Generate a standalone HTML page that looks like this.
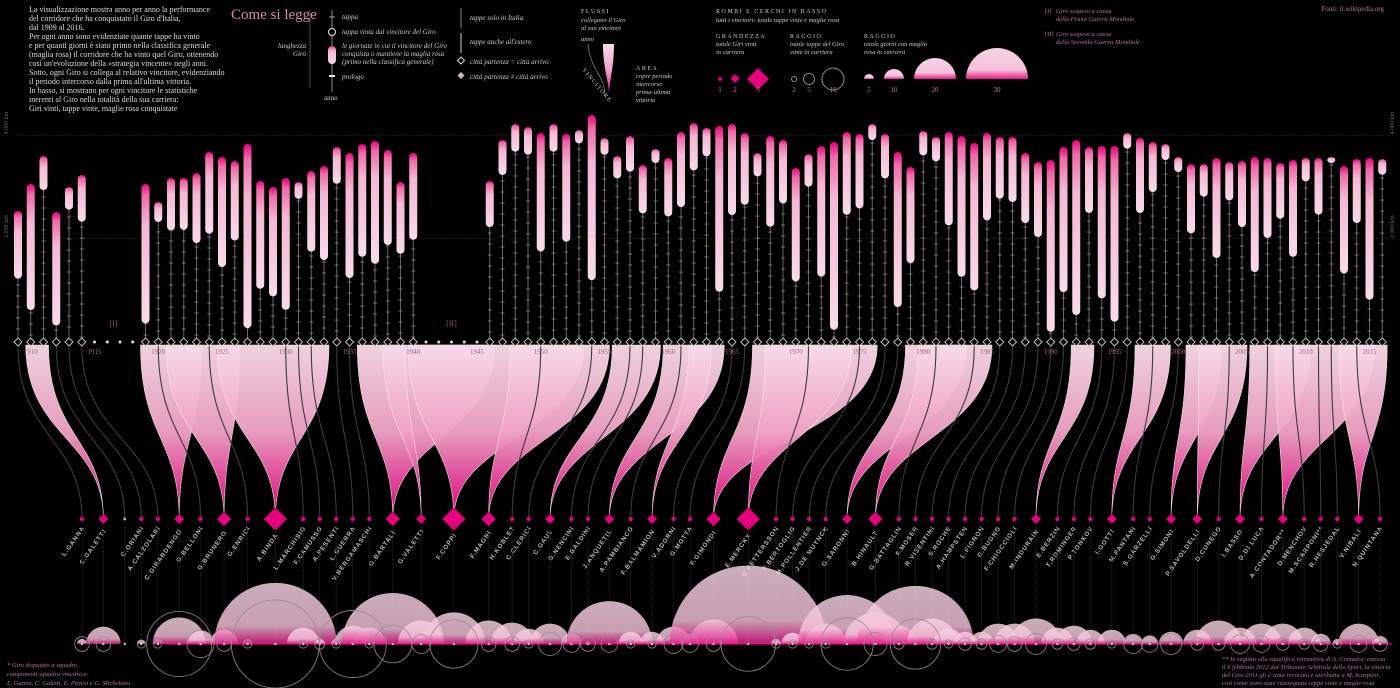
<!DOCTYPE html>
<html><head><meta charset="utf-8">
<style>
html,body{margin:0;padding:0;background:#000;}
svg{display:block;font-family:"Liberation Serif",serif;}
.it{font-style:italic;}
</style></head>
<body>
<svg id="chart" width="1400" height="688" viewBox="0 0 1400 688" xmlns="http://www.w3.org/2000/svg">
<defs>
<linearGradient id="barG" x1="0" y1="0" x2="0" y2="1"><stop offset="0" stop-color="#e8007f"/><stop offset="0.08" stop-color="#ee6aa8"/><stop offset="0.3" stop-color="#f5b8d4"/><stop offset="1" stop-color="#f8dbe8"/></linearGradient>
<linearGradient id="flowG" x1="0" y1="0" x2="0" y2="1"><stop offset="0" stop-color="#f8dbe8"/><stop offset="0.5" stop-color="#f0a3c6"/><stop offset="1" stop-color="#e6007e"/></linearGradient>
<linearGradient id="semiG" x1="0" y1="0" x2="0" y2="1"><stop offset="0" stop-color="#f7d3e4"/><stop offset="0.7" stop-color="#f3c2d9"/><stop offset="1" stop-color="#e8198a"/></linearGradient>
</defs>
<g id="intro" fill="#ddd" font-size="8">
<text x="29" y="12">La visualizzazione mostra anno per anno la performance</text>
<text x="29" y="21">del corridore che ha conquistato il Giro d'Italia,</text>
<text x="29" y="30">dal 1909 al 2016.</text>
<text x="29" y="39">Per ogni anno sono evidenziate quante tappe ha vinto</text>
<text x="29" y="48">e per quanti giorni è stato primo nella classifica generale</text>
<text x="29" y="57">(maglia rosa) il corridore che ha vinto quel Giro, ottenendo</text>
<text x="29" y="66">così un'evoluzione della «strategia vincente» negli anni.</text>
<text x="29" y="75">Sotto, ogni Giro si collega al relativo vincitore, evidenziando</text>
<text x="29" y="84">il periodo intercorso dalla prima all'ultima vittoria.</text>
<text x="29" y="93">In basso, si mostrano per ogni vincitore le statistiche</text>
<text x="29" y="102">inerenti al Giro nella totalità della sua carriera:</text>
<text x="29" y="111">Giri vinti, tappe vinte, maglie rosa conquistate</text>
</g>
<g>
<text x="231" y="19" fill="#d88db0" font-size="15">Come si legge</text>
<line x1="310" y1="10" x2="310" y2="88" stroke="#666" stroke-width="0.7"/>
<line x1="332" y1="10" x2="332" y2="92" stroke="#888" stroke-width="1"/>
<line x1="329" y1="17" x2="335" y2="17" stroke="#aaa"/>
<circle cx="332" cy="32" r="3.5" fill="#000" stroke="#eee"/>
<rect x="328" y="46" width="8" height="18" rx="4" fill="url(#barG)"/>
<rect x="329" y="75" width="6" height="2" fill="#eee"/>
<g class="it" fill="#ccc" font-size="7">
<text x="342" y="19">tappa</text>
<text x="342" y="34">tappa vinta dal vincitore del Giro</text>
<text x="342" y="48">le giornate in cui il vincitore del Giro</text>
<text x="342" y="56">conquista o mantiene la maglia rosa</text>
<text x="342" y="64">(primo nella classifica generale)</text>
<text x="342" y="79">prologo</text>
<text x="306" y="48" text-anchor="end">lunghezza</text>
<text x="306" y="56" text-anchor="end">Giro</text>
<text x="324" y="100" font-style="normal">anno</text>
<text x="470" y="20">tappe solo in Italia</text>
<text x="470" y="44">tappe anche all'estero</text>
<text x="470" y="64">città partenza = città arrivo</text>
<text x="470" y="79">città partenza ≠ città arrivo</text>
</g>
<line x1="461" y1="8" x2="461" y2="28" stroke="#888"/>
<line x1="461" y1="33" x2="461" y2="53" stroke="#ccc"/>
<path d="M461,57 l3.5,3.5 l-3.5,3.5 l-3.5,-3.5z" fill="none" stroke="#ddd"/>
<path d="M461,72 l3.5,3.5 l-3.5,3.5 l-3.5,-3.5z" fill="#d7b0c4"/>
<g fill="#ccc" font-size="6" letter-spacing="1.5"><text x="581" y="13">FLUSSI</text><text x="636" y="70">AREA</text>
<text x="716" y="13">ROMBI E CERCHI IN BASSO</text><text x="716" y="38">GRANDEZZA</text><text x="790" y="38">RAGGIO</text><text x="864" y="38">RAGGIO</text></g>
<g class="it" fill="#ccc" font-size="6.5">
<text x="581" y="22">collegano il Giro</text><text x="581" y="30">al suo vincitore</text><text x="581" y="41">anno</text>
<text x="636" y="78">copre periodo</text><text x="636" y="86">intercorso</text><text x="636" y="94">prima-ultima</text><text x="636" y="102">vittoria</text>
<text x="716" y="22">tutti i vincitori: totale tappe vinte e maglie rosa</text>
<text x="716" y="46">totale Giri vinti</text><text x="716" y="54">in carriera</text>
<text x="790" y="46">totale tappe del Giro</text><text x="790" y="54">vinte in carriera</text>
<text x="864" y="46">totale giorni con maglia</text><text x="864" y="54">rosa in carriera</text>
</g>
<path d="M603,44 L614,44 C614,70 609,80 609,96 C609,80 603,70 603,44Z" fill="url(#flowG)"/>
<path d="M588,44 C590,70 605,75 605,96" fill="none" stroke="#888" stroke-width="0.7"/>
<text x="582" y="70" font-size="6" fill="#ccc" letter-spacing="1.2" transform="rotate(50 582 70)">VINCITORE</text>
<circle cx="720" cy="79" r="2" fill="#e6007e"/>
<path d="M735,74 l4.5,4.5 l-4.5,4.5 l-4.5,-4.5z" fill="#e6007e"/>
<path d="M758,68 l11,11 l-11,11 l-11,-11z" fill="#e6007e"/>
<circle cx="794" cy="79" r="2.5" fill="none" stroke="#aaa" stroke-width="0.8"/>
<circle cx="809" cy="79" r="5.5" fill="none" stroke="#aaa" stroke-width="0.8"/>
<circle cx="833" cy="79" r="11" fill="none" stroke="#aaa" stroke-width="0.8"/>
<path d="M864,79 a5,5 0 0 1 10,0z" fill="url(#semiG)"/>
<path d="M884,79 a10,10 0 0 1 20,0z" fill="url(#semiG)"/>
<path d="M914,79 a21,21 0 0 1 42,0z" fill="url(#semiG)"/>
<path d="M966,79 a31,31 0 0 1 62,0z" fill="url(#semiG)"/>
<g fill="#c77aa0" font-size="7" text-anchor="middle"><text x="720" y="92">1</text><text x="735" y="92">2</text><text x="758" y="92">5</text><text x="794" y="92">2</text><text x="809" y="92">5</text><text x="833" y="92">10</text><text x="869" y="92">5</text><text x="894" y="92">10</text><text x="935" y="92">20</text><text x="997" y="92">30</text></g>
<g class="it" fill="#b77799" font-size="6.5">
<text x="1045" y="13" font-style="normal">[I]</text><text x="1056" y="13">Giro sospeso a causa</text><text x="1056" y="21">della Prima Guerra Mondiale</text>
<text x="1045" y="36" font-style="normal">[II]</text><text x="1056" y="36">Giro sospeso a causa</text><text x="1056" y="44">della Seconda Guerra Mondiale</text>
</g>
<text x="1384" y="11" text-anchor="end" fill="#b77799" font-size="7">Fonti: it.wikipedia.org</text>
</g>
<g id="axes"></g>
<g id="flows"></g>
<g id="columns"></g>
<g id="riders"></g>
<g id="bottom"></g>
<g class="it" fill="#b77799" font-size="6.5">
<text x="7" y="667">* Giro disputato a squadre,</text><text x="7" y="676">componenti squadra vincitrice:</text><text x="7" y="685">L. Ganna, C. Galetti, E. Pavesi e G. Micheletto</text>
<text x="1222" y="661">** In seguito alla squalifica retroattiva di A. Contador, emessa</text>
<text x="1222" y="669">il 6 febbraio 2012 dal Tribunale Arbitrale dello Sport, la vittoria</text>
<text x="1222" y="677">del Giro 2011 gli è stata revocata e attribuita a M. Scarponi,</text>
<text x="1222" y="685">così come sono state riassegnate tappe vinte e maglie rosa</text>
</g>
</svg>
<script>
const years=[1909,1910,1911,1912,1913,1914,1919,1920,1921,1922,1923,1924,1925,1926,1927,1928,1929,1930,1931,1932,1933,1934,1935,1936,1937,1938,1939,1940,1946,1947,1948,1949,1950,1951,1952,1953,1954,1955,1956,1957,1958,1959,1960,1961,1962,1963,1964,1965,1966,1967,1968,1969,1970,1971,1972,1973,1974,1975,1976,1977,1978,1979,1980,1981,1982,1983,1984,1985,1986,1987,1988,1989,1990,1991,1992,1993,1994,1995,1996,1997,1998,1999,2000,2001,2002,2003,2004,2005,2006,2007,2008,2009,2010,2011,2012,2013,2014,2015,2016];
const lengthKm=[2534,3056,3597,2514,2998,3230,3056,2708,3172,3172,3268,3675,3578,3500,3829,3114,2998,3172,3094,3307,3404,3771,3655,3829,3887,3713,3094,3655,3114,3907,4216,4158,4042,4216,4023,4100,4390,3945,3597,3984,3423,3733,3559,4061,4235,4139,4177,4216,4042,3655,3984,3907,3365,3636,3791,3868,4061,4023,4216,4023,3675,3385,4081,3965,4061,3984,3849,4042,3965,3965,3655,3481,3520,3771,3907,3771,3791,3791,4042,3945,3868,3829,3578,3442,3442,3559,3481,3500,3578,3559,3462,3520,3559,3559,3578,3404,3539,3559,3539];
const rosaKm=[1309,2438,658,2193,439,903,2696,387,1013,1000,1355,1580,2129,1535,3560,2083,2116,2548,323,1561,1819,710,2419,2180,2374,1838,1387,1677,890,677,535,535,2290,535,2083,258,3193,323,432,690,935,271,1129,1451,916,548,3206,1761,1387,452,1754,1226,2193,632,2528,3631,1600,1438,310,858,2999,1858,471,471,1806,2722,2851,1690,1193,1258,1355,1451,3322,2806,3386,1277,2948,3399,303,1451,968,310,290,1342,632,1935,742,1277,2225,1548,1077,1871,452,1097,116,2077,1238,2741,303];
const riderNames=["L. GANNA","C. GALETTI","*","C. ORIANI","A. CALZOLARI","C. GIRARDENGO","G. BELLONI","G. BRUNERO","G. ENRICI","A. BINDA","L. MARCHISIO","F. CAMUSSO","A. PESENTI","L. GUERRA","V. BERGAMASCHI","G. BARTALI","G. VALETTI","F. COPPI","F. MAGNI","H. KOBLET","C. CLERICI","C. GAUL","G. NENCINI","E. BALDINI","J. ANQUETIL","A. PAMBIANCO","F. BALMAMION","V. ADORNI","G. MOTTA","F. GIMONDI","E. MERCKX","G. PETTERSSON","F. BERTOGLIO","M. POLLENTIER","J. DE MUYNCK","G. SARONNI","B. HINAULT","G. BATTAGLIN","F. MOSER","R. VISENTINI","S. ROCHE","A. HAMPSTEN","L. FIGNON","G. BUGNO","F. CHIOCCIOLI","M. INDURAIN","E. BERZIN","T. ROMINGER","P. TONKOV","I. GOTTI","M. PANTANI","S. GARZELLI","G. SIMONI","P. SAVOLDELLI","D. CUNEGO","I. BASSO","D. DI LUCA","A. CONTADOR**","D. MENCHOV","M. SCARPONI**","R. HESJEDAL","V. NIBALI","N. QUINTANA"];
const riderWinYears=[[1909],[1910,1911],[1912],[1913],[1914],[1919,1923],[1920],[1921,1922,1926],[1924],[1925,1927,1928,1929,1933],[1930],[1931],[1932],[1934],[1935],[1936,1937,1946],[1938,1939],[1940,1947,1949,1952,1953],[1948,1951,1955],[1950],[1954],[1956,1959],[1957],[1958],[1960,1964],[1961],[1962,1963],[1965],[1966],[1967,1969,1976],[1968,1970,1972,1973,1974],[1971],[1975],[1977],[1978],[1979,1983],[1980,1982,1985],[1981],[1984],[1986],[1987],[1988],[1989],[1990],[1991],[1992,1993],[1994],[1995],[1996],[1997,1999],[1998],[2000],[2001,2003],[2002,2005],[2004],[2006,2010],[2007],[2008,2015],[2009],[2011],[2012],[2013,2016],[2014]];
const rosaDays=[5,17,0,4,5,26,13,14,5,60,16,5,5,18,16,50,23,31,23,21,15,20,10,3,42,12,12,17,10,24,77,5,11,5,20,48,31,18,57,25,15,12,12,20,20,25,16,18,14,14,10,8,12,14,23,16,20,20,16,10,5,20,8];
const stageWins=[6,6,0,3,3,30,12,6,3,41,3,4,3,31,3,17,8,22,6,6,3,10,7,6,7,3,3,8,7,6,25,3,3,3,3,24,10,4,23,4,3,5,4,7,6,9,4,5,4,3,8,7,9,5,5,8,7,5,4,6,3,7,6];
const yearTicks=[1910,1915,1920,1925,1930,1935,1940,1945,1950,1955,1960,1965,1970,1975,1980,1985,1990,1995,2000,2005,2010,2015];
const kmTicks=[2000,4000];
const kmLabels=["2.000 km","4.000 km"];

const NS="http://www.w3.org/2000/svg";
const BASE=342, KM=0.0517, NAMEY=519, BOT=644;
const X=y=>18+(y-1909)*12.75;
const Y=km=>BASE-km*KM;
function mk(tag,attrs,parent){const e=document.createElementNS(NS,tag);for(const k in attrs)e.setAttribute(k,attrs[k]);parent.appendChild(e);return e;}
const gA=document.getElementById('axes'),gF=document.getElementById('flows'),gC=document.getElementById('columns'),gR=document.getElementById('riders'),gB=document.getElementById('bottom');

kmTicks.forEach((k,i)=>{
  const l=mk('line',{x1:14,x2:1390,y1:Y(k),y2:Y(k),stroke:'#2a2a2a','stroke-width':0.8,'stroke-dasharray':'1.5 1.5'},gA);
  
  
  [8,1394].forEach(xx=>{
    const t=mk('text',{x:xx,y:Y(k)-12,fill:'#666','font-size':6,'text-anchor':'middle',transform:`rotate(-90 ${xx} ${Y(k)-12})`},gA);
    
    
    t.textContent=kmLabels[i];
  });
});
for(let y=1909;y<=2016;y++){ if(years.indexOf(y)<0){ const d=mk('circle',{cx:X(y),cy:BASE,r:1.5,fill:'#ddd'},gA);   } }
[["[I]",1916.5],["[II]",1943]].forEach(w=>{const t=mk('text',{x:X(w[1]),y:326,fill:'#9b4d73','font-size':8,'text-anchor':'middle'},gA);t.textContent=w[0];});

const half=w=>w<=1?0:2.2*w+0.6;
let raw=[],cur=0;
riderWinYears.forEach((ys,i)=>{ if(i>0) cur+=17+half(riderWinYears[i-1].length)+half(ys.length); raw.push(cur); });
const RX=raw.map(v=>82+v*(1380-82)/cur);

riderWinYears.forEach((ys,i)=>{
  const rx=RX[i];
  if(ys.length>1){
    const x1=X(ys[0])-5,x2=X(ys[ys.length-1])+5;
    const p=mk('path',{d:`M${x1},${BASE+3} C${x1},${BASE+95} ${rx},${NAMEY-80} ${rx},${NAMEY} C${rx},${NAMEY-80} ${x2},${BASE+95} ${x2},${BASE+3} Z`,fill:'url(#flowG)',stroke:'#fbe3ee','stroke-width':0.6,opacity:0.96},gF);
    
    
  } else {
    const x1=X(ys[0]);
    const p=mk('path',{d:`M${x1},${BASE+4} C${x1},${BASE+95} ${rx},${NAMEY-80} ${rx},${NAMEY}`,fill:'none',stroke:'#3b3b3b','stroke-width':1.1},gF);
    
    
  }
});

years.forEach((y,i)=>{
  const x=X(y),top=Y(lengthKm[i]);
  const g=mk('g',{},gC);
  
  
  mk('line',{x1:x,x2:x,y1:top,y2:BASE,stroke:'#666','stroke-width':1},g);
  for(let t=top+8;t<BASE-4;t+=11) mk('line',{x1:x-2,x2:x+2,y1:t,y2:t,stroke:'#888','stroke-width':0.8},g);
  const h=Math.max(rosaKm[i]*KM,6);
  const b=mk('rect',{x:x-4,y:top,width:8,height:h,rx:4,fill:'url(#barG)'},g);
  
  
  const d=mk('path',{d:`M${x},${BASE-4} l4,4 l-4,4 l-4,-4z`,fill:'#000',stroke:'#ccc','stroke-width':0.9},g);
  
  
});
yearTicks.forEach(y=>{const t=mk('text',{x:X(y),y:354,fill:'#a0667f','font-size':7,'text-anchor':'middle'},gC);t.textContent=y;});

mk('line',{x1:165,x2:1392,y1:BOT,y2:BOT,stroke:'#e8007f','stroke-width':1.2},gB);
riderNames.forEach((n,i)=>{
  const rx=RX[i];
  const vl=mk('line',{x1:rx,x2:rx,y1:NAMEY+8,y2:BOT,stroke:'#2b2b2b','stroke-width':1,'stroke-dasharray':'1 1'},gB);
  
  
});
riderNames.forEach((n,i)=>{
  const rx=RX[i],r=rosaDays[i]*1.02;
  if(r>0){const s=mk('path',{d:`M${rx-r},${BOT} A${r},${r} 0 0 1 ${rx+r},${BOT} Z`,fill:'url(#semiG)',opacity:0.82},gB);
  
  }
});
riderNames.forEach((n,i)=>{
  const rx=RX[i],r=stageWins[i]*1.05+1;
  if(stageWins[i]>0){const c=mk('circle',{cx:rx,cy:BOT,r:r,fill:'none',stroke:'#9a8a92','stroke-width':0.8},gB);
  
  }
  const d=mk('circle',{cx:rx,cy:BOT,r:1.2,fill:'#ccc'},gB);
  
  
});

riderNames.forEach((n,i)=>{
  const rx=RX[i],w=riderWinYears[i].length;
  let m;
  if(n==="*"){ m=mk('circle',{cx:rx,cy:NAMEY,r:1.5,fill:'#aaa'},gR); }
  else if(w===1){ m=mk('circle',{cx:rx,cy:NAMEY,r:2.2,fill:'#e6007e'},gR); }
  else { const h=half(w); m=mk('path',{d:`M${rx},${NAMEY-h} l${h},${h} l${-h},${h} l${-h},${-h}z`,fill:'#e6007e'},gR); }
  
  
  if(n!=="*"){
    const tx=rx+3,ty=NAMEY+9+half(w)*0.6;
    const t=mk('text',{x:tx,y:ty,fill:'#bbb','font-size':6.3,'font-family':'Liberation Sans, sans-serif','font-weight':'bold','letter-spacing':0.9,'text-anchor':'end',transform:`rotate(-55 ${tx} ${ty})`},gR);
    
    
    t.textContent=n.replace(' ','');
  }
});
</script>
</body></html>
